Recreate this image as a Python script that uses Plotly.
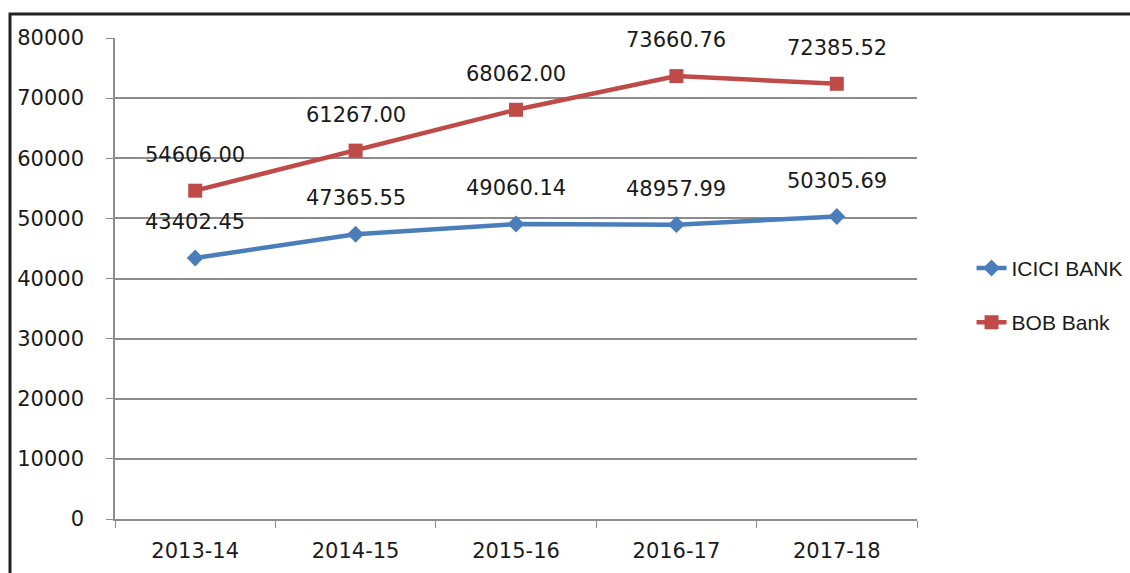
import plotly.graph_objects as go

categories = ["2013-14", "2014-15", "2015-16", "2016-17", "2017-18"]
icici = [43402.45, 47365.55, 49060.14, 48957.99, 50305.69]
bob = [54606.00, 61267.00, 68062.00, 73660.76, 72385.52]
y_ticks = [0, 10000, 20000, 30000, 40000, 50000, 60000, 70000, 80000]
y_labels = [str(v) for v in y_ticks]

BLUE = "#4A7EBB"
RED = "#BE4B48"
GRID = "#8c8c8c"
FONT = "DejaVu Sans"

fig = go.Figure()
fig.add_trace(go.Scatter(x=categories, y=icici, mode="lines+markers", name="ICICI BANK",
                         legendgroup="a",
                         line=dict(color=BLUE, width=4.5),
                         marker=dict(symbol="diamond", size=13, color=BLUE)))
fig.add_trace(go.Scatter(x=categories, y=bob, mode="lines+markers", name="BOB Bank",
                         legendgroup="b",
                         line=dict(color=RED, width=4.5),
                         marker=dict(symbol="square", size=14, color=RED)))

annotations = []
for series in (icici, bob):
    for c, v in zip(categories, series):
        annotations.append(dict(x=c, y=v, xref="x", yref="y", text=f"{v:.2f}",
                                showarrow=False, yshift=36,
                                font=dict(family=FONT, size=21, color="#1a1a1a")))

fig.update_layout(
    width=1130, height=573,
    margin=dict(l=115, r=213, t=38, b=54, autoexpand=False),
    paper_bgcolor="white", plot_bgcolor="white",
    font=dict(family=FONT, size=21, color="#1a1a1a"),
    annotations=annotations,
    legend=dict(x=1.068, y=0.465, xanchor="left", yanchor="middle",
                font=dict(family="Liberation Sans Narrow, Liberation Sans", size=21, color="#1a1a1a"),
                tracegroupgap=24, bgcolor="rgba(0,0,0,0)"),
    shapes=[dict(type="rect", xref="paper", yref="paper",
                 x0=(10 - 115) / 802, x1=2, y0=-2, y1=(519 - 14) / 481,
                 line=dict(color="#222222", width=3), fillcolor="rgba(0,0,0,0)", layer="below")],
    xaxis=dict(type="category", range=[-0.5, 4.5], showgrid=False,
               showline=True, linecolor=GRID, linewidth=1.5,
               ticks="outside", tickson="boundaries", ticklen=7, tickcolor=GRID,
               ticklabelstandoff=12, tickfont=dict(family=FONT, size=21)),
    yaxis=dict(range=[0, 80000], tickvals=y_ticks, ticktext=y_labels,
               showgrid=True, gridcolor=GRID, gridwidth=1.5,
               showline=True, linecolor=GRID, linewidth=1.5,
               ticks="outside", ticklen=7, tickcolor=GRID, ticklabelstandoff=18,
               zeroline=False, tickfont=dict(family=FONT, size=21)),
)

fig.write_html("out.html")
